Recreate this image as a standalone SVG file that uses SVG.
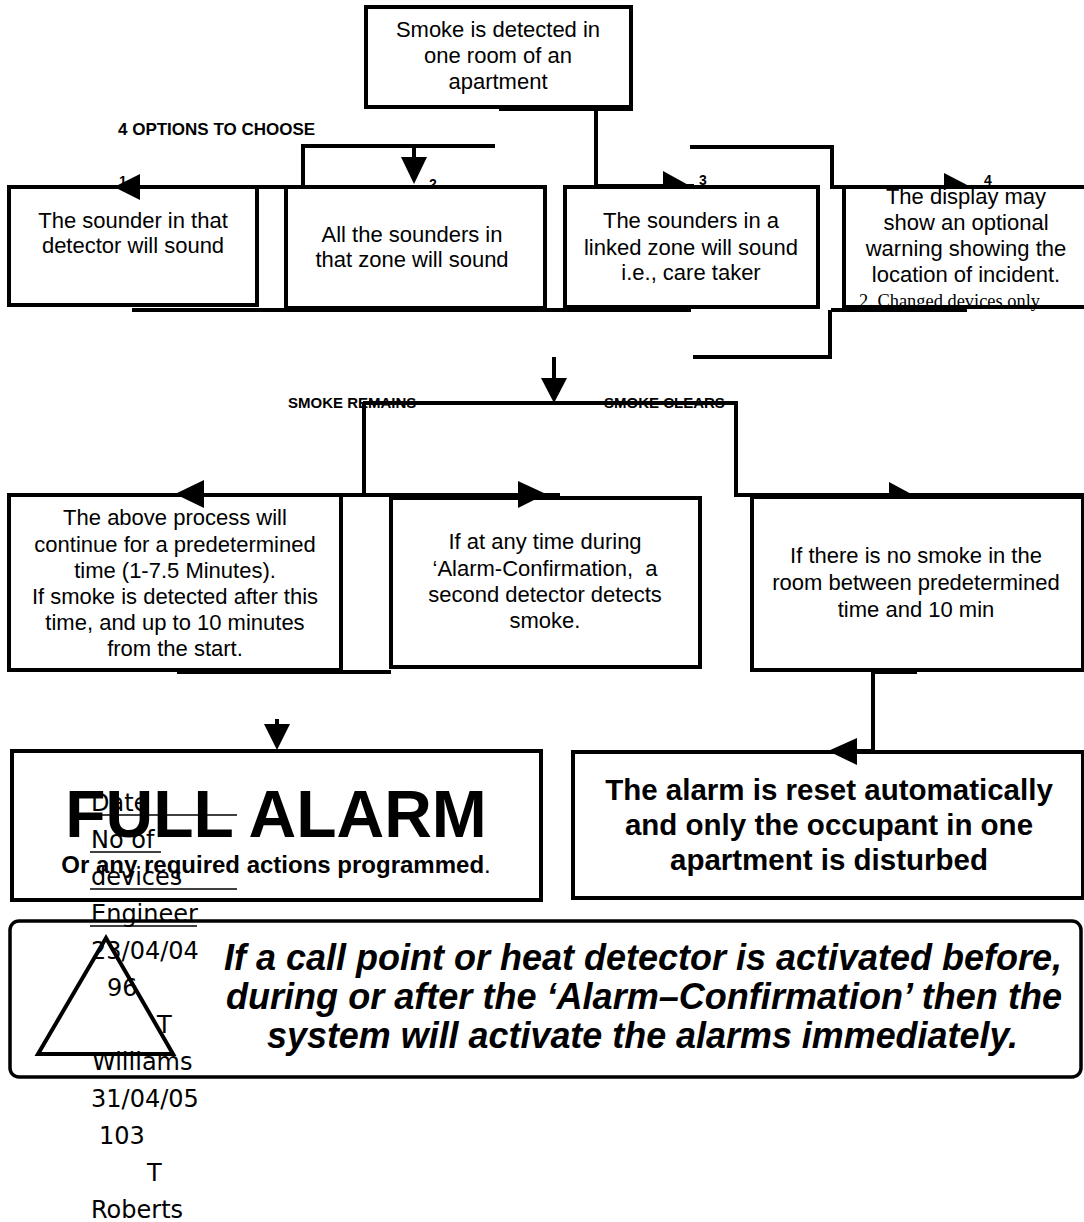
<svg xmlns="http://www.w3.org/2000/svg" width="1084" height="1222" viewBox="0 0 1084 1222">
<defs>
<style>
.box{fill:#fff;stroke:#000;stroke-width:4}
.ln{fill:none;stroke:#000;stroke-width:4}
.ah{fill:#000;stroke:none}
.t{font-family:"Liberation Sans",Arial,sans-serif;font-size:22px;text-anchor:middle;fill:#000}
.lab{font-family:"Liberation Sans",Arial,sans-serif;font-weight:bold;fill:#000}
.bt{font-family:"Liberation Sans",Arial,sans-serif;font-weight:bold;text-anchor:middle;fill:#000}
.hw{font-family:"Comic Sans MS","DejaVu Sans",sans-serif;font-size:24px;fill:#000}
.ul{stroke:#000;stroke-width:1.5}
</style>
</defs>
<rect width="1084" height="1222" fill="#fff"/>

<g id="n-start">
<rect class="box" x="366" y="7" width="265" height="100"/>
<text class="t"><tspan x="498" y="37">Smoke is detected in</tspan><tspan x="498" y="63">one room of an</tspan><tspan x="498" y="89">apartment</tspan></text>
</g>

<g id="n-opt1">
<rect class="box" x="9" y="187" width="248" height="118"/>
<text class="t"><tspan x="133" y="228">The sounder in that</tspan><tspan x="133" y="253">detector will sound</tspan></text>
</g>

<g id="n-opt2">
<rect class="box" x="286" y="187" width="259" height="121"/>
<text class="t"><tspan x="412" y="242">All the sounders in</tspan><tspan x="412" y="267">that zone will sound</tspan></text>
</g>

<g id="n-opt3">
<rect class="box" x="565" y="187" width="253" height="120"/>
<text class="t"><tspan x="691" y="228">The sounders in a</tspan><tspan x="691" y="255">linked zone will sound</tspan><tspan x="691" y="280">i.e., care taker</tspan></text>
</g>

<g id="n-opt4">
<rect class="box" x="844" y="187" width="245" height="120"/>
<text class="t"><tspan x="966" y="204">The display may</tspan><tspan x="966" y="230">show an optional</tspan><tspan x="966" y="256">warning showing the</tspan><tspan x="966" y="282">location of incident.</tspan></text>
<text x="859" y="307" font-family="'Liberation Serif','Times New Roman',serif" font-size="18" textLength="181" lengthAdjust="spacingAndGlyphs">2. Changed devices only</text>
</g>

<g id="n-remain">
<rect class="box" x="9" y="495" width="332" height="175"/>
<text class="t"><tspan x="175" y="525">The above process will</tspan><tspan x="175" y="552">continue for a predetermined</tspan><tspan x="175" y="578">time (1-7.5 Minutes).</tspan><tspan x="175" y="604">If smoke is detected after this</tspan><tspan x="175" y="630">time, and up to 10 minutes</tspan><tspan x="175" y="656">from the start.</tspan></text>
</g>

<g id="n-second">
<rect class="box" x="391" y="498" width="309" height="169"/>
<text class="t"><tspan x="545" y="549">If at any time during</tspan><tspan x="545" y="576">‘Alarm-Confirmation,&#160; a</tspan><tspan x="545" y="602">second detector detects</tspan><tspan x="545" y="628">smoke.</tspan></text>
</g>

<g id="n-clears">
<rect class="box" x="752" y="497" width="331" height="173"/>
<text class="t"><tspan x="916" y="563">If there is no smoke in the</tspan><tspan x="916" y="590">room between predetermined</tspan><tspan x="916" y="617">time and 10 min</tspan></text>
</g>

<g id="n-full">
<rect class="box" x="12" y="751" width="529" height="149"/>
<text class="bt" x="276" y="837" font-size="66">FULL ALARM</text>
<text class="bt" x="276" y="873" font-size="24">Or any required actions programmed<tspan font-weight="normal">.</tspan></text>
</g>

<g id="n-reset">
<rect class="box" x="573" y="752" width="510" height="146"/>
<text class="bt" font-size="29.5"><tspan x="829" y="800">The alarm is reset automatically</tspan><tspan x="829" y="835">and only the occupant in one</tspan><tspan x="829" y="870">apartment is disturbed</tspan></text>
</g>

<g id="n-note">
<rect x="10" y="921" width="1071" height="156" rx="9" fill="#fff" stroke="#000" stroke-width="3.5"/>
<text font-family="'Liberation Sans',Arial,sans-serif" font-weight="bold" font-style="italic" font-size="36" fill="#000">
<tspan x="224" y="970" textLength="838" lengthAdjust="spacingAndGlyphs">If a call point or heat detector is activated before,</tspan>
</text>
<text font-family="'Liberation Sans',Arial,sans-serif" font-weight="bold" font-style="italic" font-size="36" fill="#000">
<tspan x="226" y="1009" textLength="836" lengthAdjust="spacingAndGlyphs">during or after the ‘Alarm–Confirmation’ then the</tspan>
</text>
<text font-family="'Liberation Sans',Arial,sans-serif" font-weight="bold" font-style="italic" font-size="36" fill="#000">
<tspan x="267" y="1048" textLength="751" lengthAdjust="spacingAndGlyphs">system will activate the alarms immediately.</tspan>
</text>
</g>

<g id="connectors">
<polyline class="ln" points="495,146 303,146 303,187"/>
<line class="ln" x1="414" y1="146" x2="414" y2="160"/>
<polygon class="ah" points="401,157 427,157 414,184"/>
<line class="ln" x1="255" y1="187" x2="288" y2="187"/>
<text class="lab" x="119" y="186" font-size="14">1</text>
<polygon class="ah" points="114,187 140,174 140,200"/>
<text class="lab" x="429" y="189" font-size="14">2</text>
<text class="lab" x="118" y="135" font-size="17">4 OPTIONS TO CHOOSE</text>

<polyline class="ln" points="596,107 596,186 694,186"/>
<polygon class="ah" points="663,171 663,187 692,187"/>
<text class="lab" x="699" y="185" font-size="14">3</text>

<polyline class="ln" points="690,147 832,147 832,187 1084,187"/>
<polygon class="ah" points="944,173 944,187 971,187"/>
<text class="lab" x="984" y="185" font-size="14">4</text>

<line class="ln" x1="499" y1="109" x2="633" y2="109"/>
<line class="ln" x1="132" y1="310" x2="691" y2="310"/>
<line class="ln" x1="831" y1="310" x2="967" y2="310"/>
<polyline class="ln" points="830,310 830,357 693,357"/>

<line class="ln" x1="554" y1="357" x2="554" y2="380"/>
<polygon class="ah" points="541,378 567,378 554,403"/>
<text class="lab" x="288" y="408" font-size="15">SMOKE REMAINS</text>
<text class="lab" x="604" y="408" font-size="15">SMOKE CLEARS</text>
<line class="ln" x1="363" y1="403" x2="738" y2="403" stroke-width="3.5"/>
<line class="ln" x1="364" y1="403" x2="364" y2="495"/>
<line class="ln" x1="175" y1="495" x2="560" y2="495" stroke-width="5"/>
<polygon class="ah" points="175,494 204,480 204,508"/>
<polygon class="ah" points="546,494 518,481 518,508"/>
<polyline class="ln" points="736,403 736,495 1084,495"/>
<polygon class="ah" points="889,482 889,496 915,496"/>

<line class="ln" x1="177" y1="672" x2="391" y2="672"/>
<line class="ln" x1="873" y1="672" x2="917" y2="672" stroke-width="5"/>
<polyline class="ln" points="873,672 873,751 857,751"/>
<polygon class="ah" points="828,751 857,738 857,765"/>

<line class="ln" x1="277" y1="719" x2="277" y2="728"/>
<polygon class="ah" points="264,724 290,724 277,750"/>
</g>

<g id="n-log">
<polygon points="106,938 38,1054 173,1054" fill="none" stroke="#000" stroke-width="4"/>
<text class="hw" x="91" y="811">Date</text>
<line class="ul" x1="90" y1="815" x2="237" y2="815"/>
<text class="hw" x="91" y="848">No of</text>
<line class="ul" x1="90" y1="852" x2="161" y2="852"/>
<text class="hw" x="91" y="885">devices</text>
<line class="ul" x1="90" y1="889" x2="237" y2="889"/>
<text class="hw" x="91" y="922">Engineer</text>
<line class="ul" x1="90" y1="926" x2="197" y2="926"/>
<text class="hw" x="91" y="959">23/04/04</text>
<text class="hw" x="107" y="996">96</text>
<text class="hw" x="157" y="1033">T</text>
<text class="hw" x="92" y="1070">Williams</text>
<text class="hw" x="91" y="1107">31/04/05</text>
<text class="hw" x="99" y="1144">103</text>
<text class="hw" x="147" y="1181">T</text>
<text class="hw" x="91" y="1218">Roberts</text>
</g>
</svg>
